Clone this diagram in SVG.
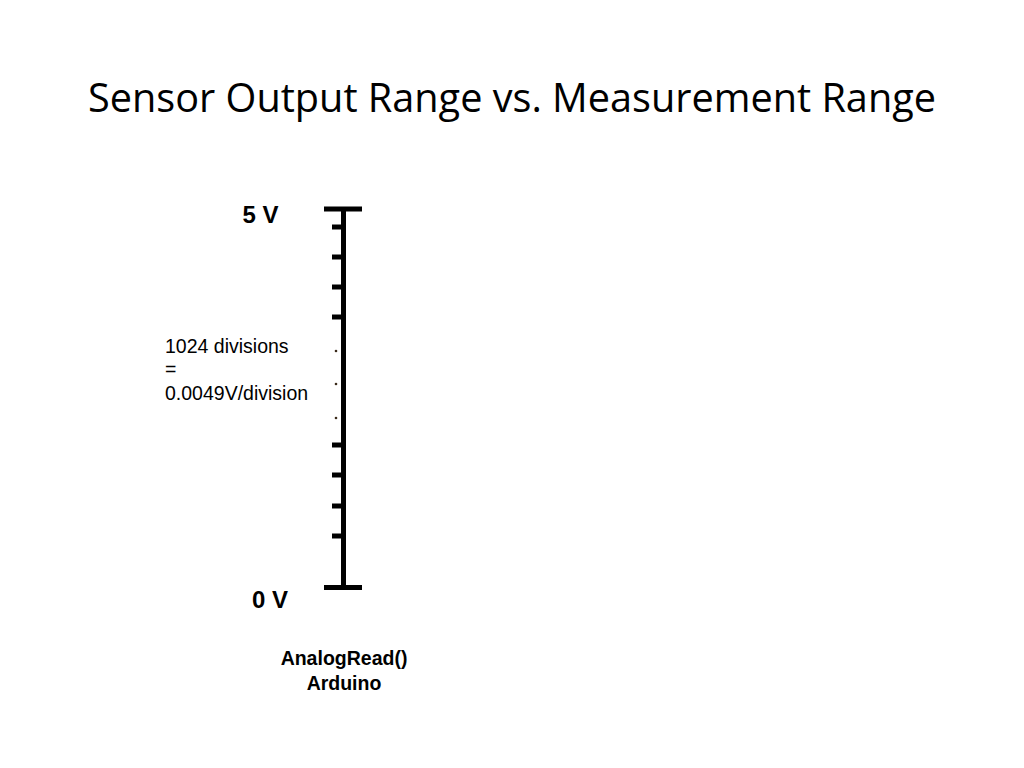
<svg xmlns="http://www.w3.org/2000/svg" width="1024" height="768" viewBox="0 0 1024 768">
<style>
.t{font-family:"Open Sans","Liberation Sans",sans-serif;fill:#000}
.b{font-family:"Liberation Sans",Arial,sans-serif;font-weight:bold;fill:#000}
.n{font-family:"Liberation Sans",Arial,sans-serif;fill:#000}
.tick{stroke:#000;stroke-width:5}
</style>
<rect width="1024" height="768" fill="#fff"/>
<text class="t" x="512" y="112" font-size="40" text-anchor="middle" textLength="848" lengthAdjust="spacingAndGlyphs">Sensor Output Range vs. Measurement Range</text>
<g id="scale">
<line class="tick" x1="343.5" y1="208" x2="343.5" y2="588"/>
<line class="tick" x1="324" y1="209" x2="362" y2="209"/>
<line class="tick" x1="324" y1="587.5" x2="362" y2="587.5"/>
<line class="tick" x1="332" y1="227" x2="343" y2="227"/>
<line class="tick" x1="332" y1="257" x2="343" y2="257"/>
<line class="tick" x1="332" y1="287" x2="343" y2="287"/>
<line class="tick" x1="332" y1="317" x2="343" y2="317"/>
<line class="tick" x1="332" y1="445" x2="343" y2="445"/>
<line class="tick" x1="332" y1="475" x2="343" y2="475"/>
<line class="tick" x1="332" y1="506" x2="343" y2="506"/>
<line class="tick" x1="332" y1="536" x2="343" y2="536"/>
<circle cx="336" cy="351" r="1.3" fill="#3a2a1a"/>
<circle cx="336" cy="384" r="1.3" fill="#3a2a1a"/>
<circle cx="336" cy="418" r="1.3" fill="#3a2a1a"/>
</g>
<g id="label-5v"><text class="b" x="260.5" y="223" font-size="24" text-anchor="middle">5 V</text></g>
<g id="label-0v"><text class="b" x="270" y="608" font-size="24" text-anchor="middle">0 V</text></g>
<g id="label-divisions">
<text class="n" x="165" y="353" font-size="19.5">1024 divisions</text>
<text class="n" x="165" y="376" font-size="19.5">=</text>
<text class="n" x="165" y="400" font-size="19.5">0.0049V/division</text>
</g>
<g id="label-analogread">
<text class="b" x="344" y="665" font-size="19.5" text-anchor="middle">AnalogRead()</text>
<text class="b" x="344" y="690" font-size="19.5" text-anchor="middle">Arduino</text>
</g>
</svg>
